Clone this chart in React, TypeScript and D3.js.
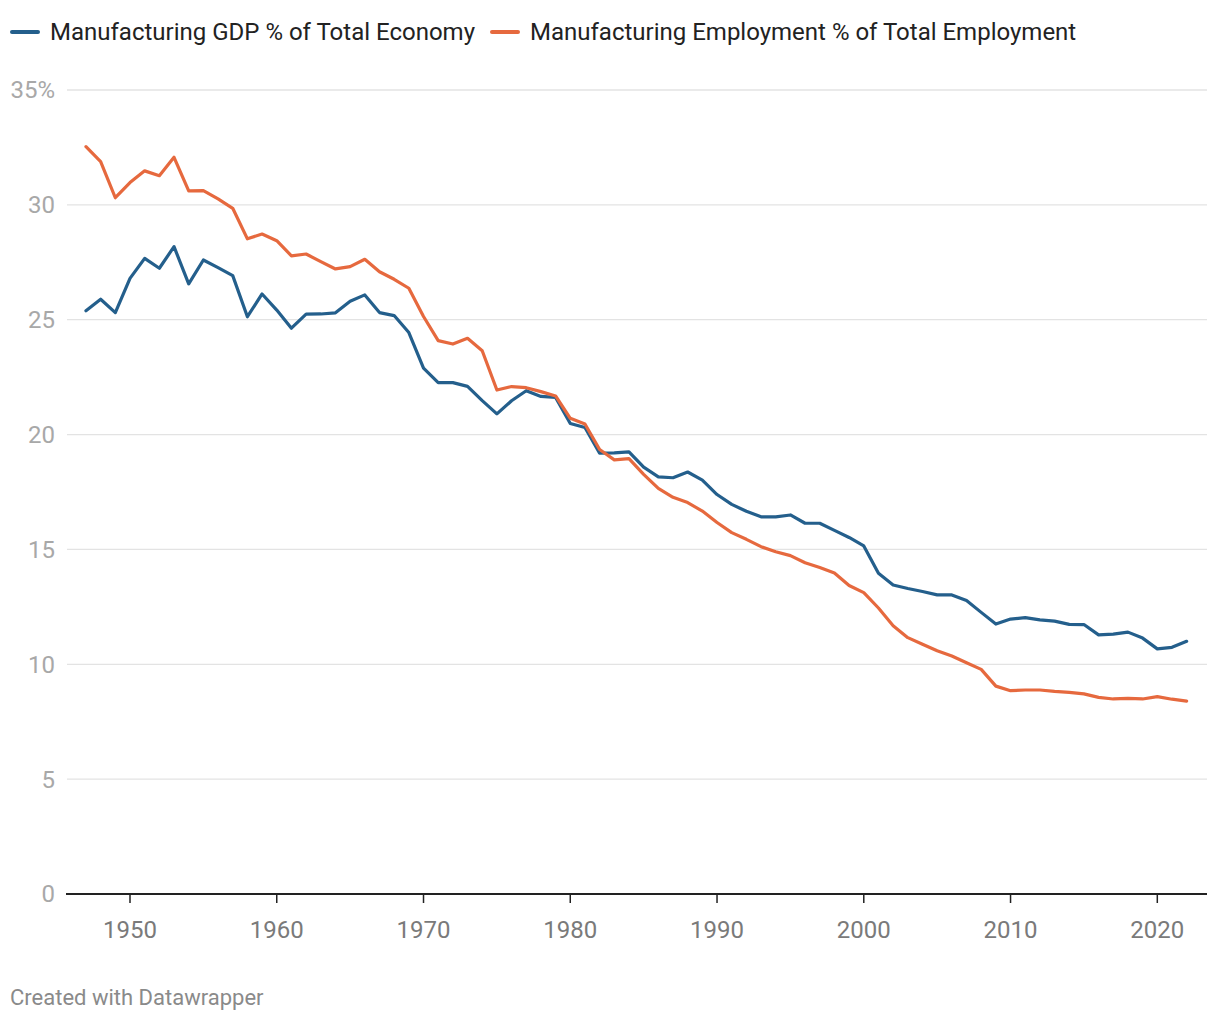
import React from "react";
import * as d3 from "d3";

const years: number[] = d3.range(1947, 2023);

const gdpShare: number[] = [
  25.39, 25.89, 25.31, 26.8, 27.67, 27.24, 28.18, 26.56, 27.6, 27.27,
  26.92, 25.13, 26.12, 25.42, 24.63, 25.24, 25.25, 25.3, 25.8, 26.08,
  25.31, 25.18, 24.44, 22.89, 22.26, 22.26, 22.1, 21.48, 20.9, 21.47,
  21.91, 21.66, 21.62, 20.48, 20.31, 19.19, 19.2, 19.25, 18.58, 18.16,
  18.12, 18.37, 18.02, 17.39, 16.96, 16.66, 16.42, 16.42, 16.5, 16.14,
  16.14, 15.83, 15.52, 15.15, 13.96, 13.45, 13.3, 13.17, 13.02, 13.02,
  12.78, 12.26, 11.75, 11.97, 12.03, 11.93, 11.88, 11.74, 11.73, 11.28,
  11.31, 11.4, 11.14, 10.67, 10.74, 11.0,
];

const employmentShare: number[] = [
  32.53, 31.88, 30.31, 30.97, 31.48, 31.27, 32.07, 30.61, 30.62, 30.26,
  29.85, 28.52, 28.73, 28.44, 27.78, 27.86, 27.53, 27.21, 27.31, 27.63,
  27.09, 26.76, 26.37, 25.14, 24.09, 23.94, 24.19, 23.65, 21.94, 22.09,
  22.04, 21.87, 21.68, 20.71, 20.46, 19.35, 18.9, 18.95, 18.27, 17.66,
  17.27, 17.04, 16.67, 16.17, 15.73, 15.44, 15.12, 14.9, 14.73, 14.42,
  14.21, 13.97, 13.43, 13.12, 12.45, 11.68, 11.16, 10.87, 10.59, 10.36,
  10.07, 9.78, 9.05, 8.85, 8.88, 8.88, 8.82, 8.78, 8.71, 8.56,
  8.49, 8.52, 8.49, 8.59, 8.48, 8.4,
];

const seriesNames: string[] = [
  "Manufacturing GDP % of Total Economy",
  "Manufacturing Employment % of Total Employment",
];
const seriesColors: string[] = ["#245f8c", "#e6693e"];

const yTicks: number[] = [0, 5, 10, 15, 20, 25, 30, 35];
const xTicks: number[] = [1950, 1960, 1970, 1980, 1990, 2000, 2010, 2020];

const W = 1220;
const H = 1020;
const FONT = "Roboto, 'Noto Sans', sans-serif";

export default function App() {
  const x = d3.scaleLinear().domain([1950, 2020]).range([130, 1157.3]);
  const y = d3.scaleLinear().domain([0, 35]).range([894, 90]);
  const line = d3
    .line<number>()
    .x((_, i) => x(years[i]))
    .y((d) => y(d))
    .curve(d3.curveLinear);

  const series = [gdpShare, employmentShare];
  const legendX = [12, 492];

  return (
    <div style={{ position: "absolute", left: 0, top: 0 }}>
      <svg width={W} height={H} style={{ display: "block", background: "#fff" }} fontFamily={FONT}>
        {/* legend */}
        {seriesNames.map((name, i) => (
          <g key={name} transform={`translate(${legendX[i]},32)`}>
            <line x1={0} x2={26} y1={0} y2={0} stroke={seriesColors[i]} strokeWidth={4} strokeLinecap="round" />
            <text x={38} y={0} dy="0.35em" fontSize={24} fill="#222">
              {name}
            </text>
          </g>
        ))}

        {/* gridlines */}
        {yTicks.filter((t) => t > 0).map((t) => (
          <line key={t} x1={67} x2={1207} y1={y(t)} y2={y(t)} stroke="#e3e3e3" strokeWidth={1.3} />
        ))}
        {/* y labels */}
        {yTicks.map((t) => (
          <text key={t} x={55} y={y(t)} dy="0.35em" textAnchor="end" fontSize={24} fill="#a8a8a8">
            {t === 35 ? "35%" : String(t)}
          </text>
        ))}

        {/* lines */}
        {series.map((s, i) => (
          <path key={i} d={line(s) || ""} fill="none" stroke={seriesColors[i]} strokeWidth={3.2} strokeLinejoin="round" strokeLinecap="round" />
        ))}

        {/* x axis */}
        <line x1={66} x2={1207} y1={894} y2={894} stroke="#222" strokeWidth={2} />
        {xTicks.map((t) => (
          <g key={t}>
            <line x1={x(t)} x2={x(t)} y1={894} y2={903} stroke="#222" strokeWidth={1.5} />
            <text x={x(t)} y={930} dy="0.35em" textAnchor="middle" fontSize={24} fill="#7a7a7a">
              {t}
            </text>
          </g>
        ))}

        <text x={10} y={997} dy="0.35em" fontSize={22} fill="#8a8a8a">
          Created with Datawrapper
        </text>
      </svg>
    </div>
  );
}
